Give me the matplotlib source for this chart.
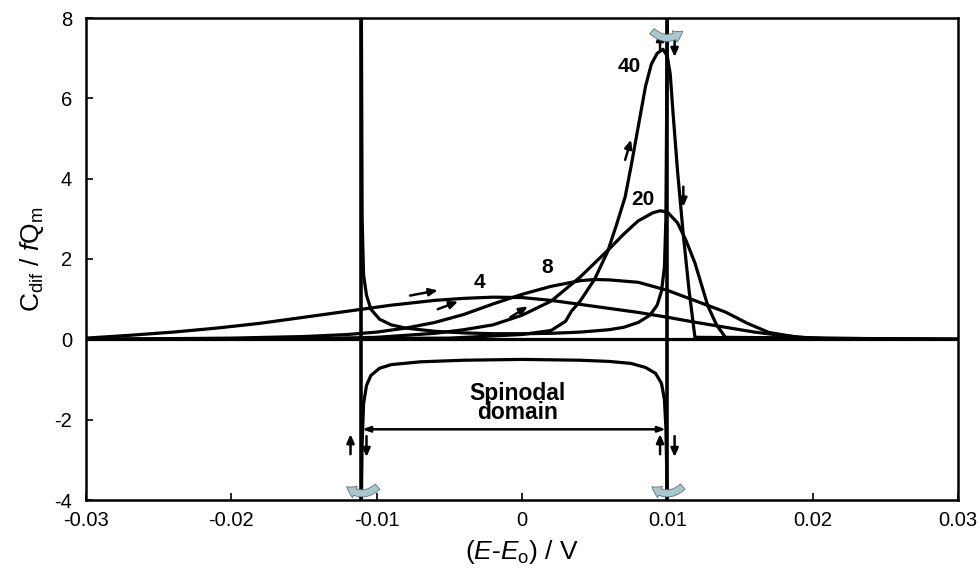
import matplotlib
matplotlib.use("Agg")
import matplotlib.pyplot as plt
from matplotlib.patches import FancyArrowPatch

plt.rcParams['font.family'] = ['Liberation Sans', 'DejaVu Sans']
plt.rcParams['mathtext.fontset'] = 'custom'
plt.rcParams['mathtext.rm'] = 'Liberation Sans'
plt.rcParams['mathtext.it'] = 'Liberation Sans:italic'
plt.rcParams['mathtext.bf'] = 'Liberation Sans:bold'

# ---- data ----
curve4_x = [-0.030, -0.027, -0.024, -0.021, -0.018, -0.015, -0.012, -0.009, -0.006, -0.004,
            -0.002, 0.000, 0.002, 0.004, 0.006, 0.008, 0.010, 0.012, 0.014, 0.016, 0.018,
            0.020, 0.022, 0.030]
curve4_y = [0.03, 0.10, 0.18, 0.28, 0.40, 0.55, 0.70, 0.85, 0.97, 1.02, 1.05, 1.04, 0.97,
            0.87, 0.77, 0.67, 0.55, 0.42, 0.30, 0.18, 0.09, 0.03, 0.01, 0.0]

curve8_x = [-0.030, -0.020, -0.015, -0.012, -0.010, -0.008, -0.006, -0.004, -0.002, 0.000,
            0.002, 0.004, 0.005, 0.006, 0.008, 0.010, 0.012, 0.014, 0.0155, 0.017, 0.019,
            0.021, 0.030]
curve8_y = [0.0, 0.03, 0.07, 0.12, 0.18, 0.28, 0.42, 0.62, 0.88, 1.12, 1.32, 1.46, 1.49,
            1.48, 1.42, 1.22, 0.95, 0.68, 0.40, 0.17, 0.05, 0.01, 0.0]

curve20_x = [-0.030, -0.015, -0.010, -0.006, -0.004, -0.002, 0.000, 0.002, 0.004, 0.006,
             0.007, 0.008, 0.009, 0.0095, 0.010, 0.0107, 0.0113, 0.0119, 0.0124, 0.0128,
             0.0134, 0.014, 0.030]
curve20_y = [0.0, 0.01, 0.05, 0.15, 0.24, 0.36, 0.60, 0.95, 1.55, 2.25, 2.62, 2.95, 3.15,
             3.20, 3.17, 2.90, 2.45, 1.90, 1.30, 0.82, 0.35, 0.05, 0.0]

curve40_x = [-0.030, -0.005, 0.000, 0.002, 0.003, 0.0034, 0.004, 0.005, 0.0059, 0.0065,
             0.0071, 0.0075, 0.008, 0.0085, 0.0089, 0.0093, 0.0097, 0.0100, 0.0102, 0.0104,
             0.0107, 0.0111, 0.0115, 0.0119, 0.030]
curve40_y = [0.0, 0.03, 0.12, 0.22, 0.45, 0.70, 0.95, 1.50, 2.19, 2.85, 3.55, 4.30, 5.30,
             6.30, 6.85, 7.12, 7.22, 7.05, 6.60, 5.60, 4.20, 2.60, 1.20, 0.05, 0.0]

spin_pos_x = [-0.01105, -0.0110, -0.0109, -0.0107, -0.0104, -0.0098, -0.0090, -0.0080,
              -0.0060, -0.0040, -0.0020, 0.0000, 0.0020, 0.0040, 0.0060, 0.0070, 0.0080,
              0.0088, 0.0093, 0.0096, 0.0098, 0.0099, 0.0100]
spin_pos_y = [8.0, 3.0, 1.6, 1.1, 0.75, 0.50, 0.36, 0.28, 0.20, 0.16, 0.14, 0.14, 0.15,
              0.18, 0.24, 0.30, 0.42, 0.60, 0.85, 1.20, 1.80, 3.00, 8.0]

spin_neg_x = [-0.01105, -0.0110, -0.0109, -0.0107, -0.0104, -0.0098, -0.0090, -0.0070,
              -0.0040, 0.0000, 0.0040, 0.0060, 0.0075, 0.0085, 0.0092, 0.0096, 0.0098,
              0.0099, 0.0100]
spin_neg_y = [-4.0, -2.6, -1.6, -1.15, -0.90, -0.72, -0.63, -0.56, -0.52, -0.50, -0.52,
              -0.55, -0.60, -0.70, -0.85, -1.10, -1.50, -2.20, -4.0]

baseline_x = [-0.030, 0.030]
baseline_y = [0.0, 0.0]

spinodal_limits = [-0.0111, 0.0100]

curve_labels = ['4', '8', '20', '40']
label_x = [-0.0029, 0.0017, 0.0083, 0.0074]
label_y = [1.42, 1.79, 3.48, 6.80]

xticks = [-0.03, -0.02, -0.01, 0.0, 0.01, 0.02, 0.03]
xticklabels = ['-0.03', '-0.02', '-0.01', '0', '0.01', '0.02', '0.03']
yticks = [-4, -2, 0, 2, 4, 6, 8]
yticklabels = ['-4', '-2', '0', '2', '4', '6', '8']

# small direction arrows (start x, start y, end x, end y)
arrows = [
    (-0.0077, 1.09, -0.0058, 1.22),
    (-0.0058, 0.75, -0.0044, 0.94),
    (-0.0008, 0.55, 0.0004, 0.82),
    (0.0071, 4.47, 0.0075, 4.97),
    (0.0111, 3.80, 0.0111, 3.30),
    (0.0095, 7.20, 0.0095, 7.65),
    (0.0105, 7.58, 0.0105, 7.03),
    (-0.0118, -2.86, -0.0118, -2.36),
    (-0.0107, -2.41, -0.0107, -2.93),
    (0.0095, -2.86, 0.0095, -2.36),
    (0.0105, -2.41, 0.0105, -2.93),
]

# ---- figure ----
fig = plt.figure(figsize=(9.8, 5.84), dpi=100)
ax = fig.add_axes([86/980, 84/584, 872/980, 482/584])

lw = 2.3
for xs, ys in [(baseline_x, baseline_y), (curve4_x, curve4_y), (curve8_x, curve8_y),
               (curve20_x, curve20_y), (curve40_x, curve40_y),
               (spin_pos_x, spin_pos_y), (spin_neg_x, spin_neg_y)]:
    ax.plot(xs, ys, color='black', lw=lw, solid_joinstyle='round', solid_capstyle='round')

for xv in spinodal_limits:
    ax.axvline(xv, color='black', lw=2.6)

for t, x, y in zip(curve_labels, label_x, label_y):
    ax.text(x, y, t, fontsize=15, fontweight='bold', ha='center', va='center')

for x0, y0, x1, y1 in arrows:
    ax.annotate('', xy=(x1, y1), xytext=(x0, y0),
                arrowprops=dict(arrowstyle='-|>,head_length=0.5,head_width=0.22',
                                color='black', lw=1.8, shrinkA=0, shrinkB=0))

# spinodal domain double arrow
ax.annotate('', xy=(spinodal_limits[0] + 0.0001, -2.24), xytext=(spinodal_limits[1] - 0.0001, -2.24),
            arrowprops=dict(arrowstyle='<|-|>,head_length=0.45,head_width=0.16',
                            color='black', lw=1.8, shrinkA=0, shrinkB=0))
ax.text(-0.0003, -1.58, 'Spinodal\ndomain', fontsize=16.5, fontweight='bold',
        ha='center', va='center', linespacing=0.8)

# curly light-blue arrows
def curl(x, y, rad, reverse=False):
    a, b = (x - 0.0012, y), (x + 0.0012, y)
    if reverse:
        a, b = b, a
    p = FancyArrowPatch(a, b, connectionstyle=f'arc3,rad={rad}',
                        arrowstyle='simple,head_length=7,head_width=9,tail_width=5',
                        fc='#a9c7cd', ec='#5f7379', lw=0.6, zorder=5, mutation_scale=1)
    ax.add_patch(p)

curl(0.0100, 7.72, 0.5)
curl(-0.0110, -3.62, -0.5, reverse=True)
curl(0.0100, -3.62, -0.5, reverse=True)

ax.set_xlim(-0.03, 0.03)
ax.set_ylim(-4, 8)
ax.set_xticks(xticks)
ax.set_xticklabels(xticklabels)
ax.set_yticks(yticks)
ax.set_yticklabels(yticklabels)
ax.tick_params(direction='in', length=5, width=1.2, labelsize=14.5, pad=8)
ax.tick_params(axis='y', pad=10)
for s in ax.spines.values():
    s.set_linewidth(1.8)

ax.set_xlabel(r'$(\mathit{E}$-$\mathit{E}_{\mathrm{o}})$ / V', fontsize=19, labelpad=6)
ax.set_ylabel(r'$\mathrm{C}_{\mathrm{dif}}$ / $\mathit{f}\mathrm{Q}_{\mathrm{m}}$', fontsize=19, labelpad=6)

fig.savefig('out.png', dpi=100)
